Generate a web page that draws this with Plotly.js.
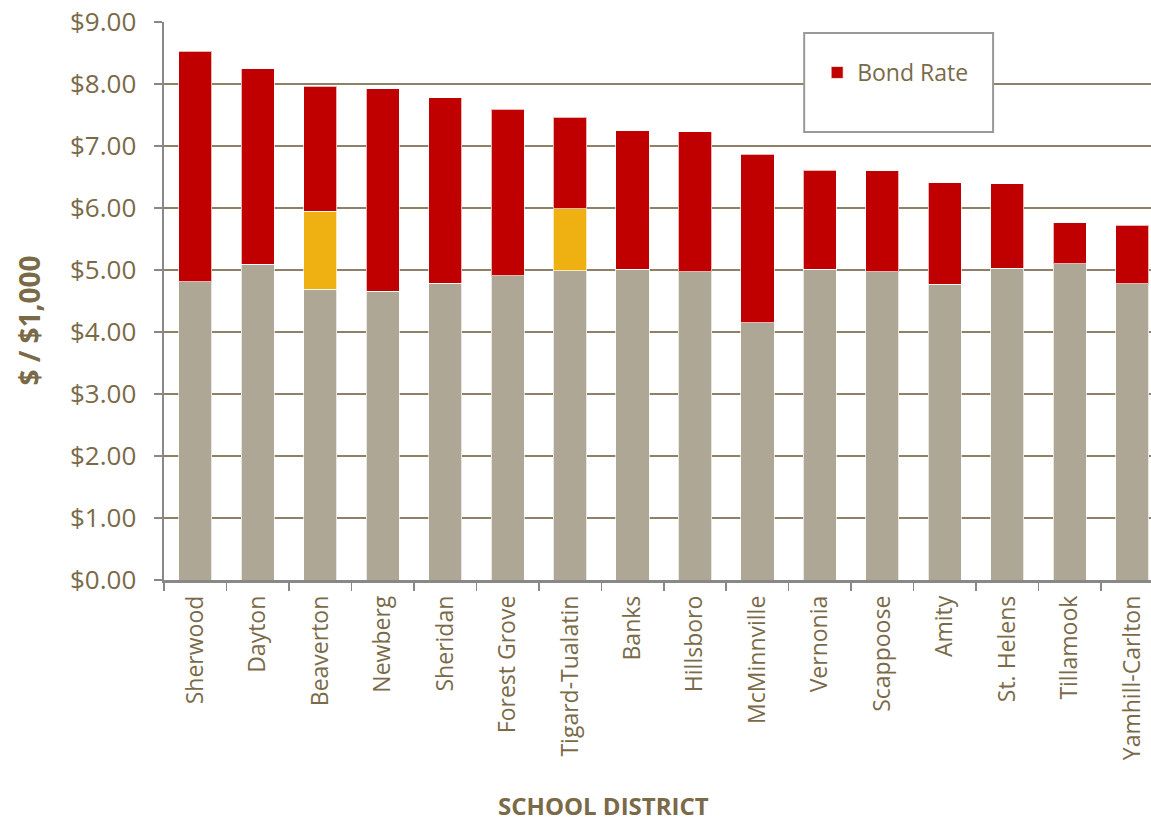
<!DOCTYPE html>
<html>
<head>
<meta charset="utf-8">
<script src="https://cdn.plot.ly/plotly-3.0.1.min.js"></script>
<style>html,body{margin:0;padding:0;background:#fff;}#chart{width:1151px;height:825px;}</style>
</head>
<body>
<div id="chart"></div>
<script>
const districts = ["Sherwood","Dayton","Beaverton","Newberg","Sheridan","Forest Grove","Tigard-Tualatin","Banks","Hillsboro","McMinnville","Vernonia","Scappoose","Amity","St. Helens","Tillamook","Yamhill-Carlton"];
const baseRate = [4.81,5.09,4.69,4.66,4.79,4.91,4.99,5.01,4.97,4.15,5.01,4.97,4.77,5.03,5.10,4.78];
const localOption = [0,0,1.26,0,0,0,1.00,0,0,0,0,0,0,0,0,0];
const totalRate = [8.53,8.25,7.96,7.92,7.78,7.59,7.46,7.25,7.23,6.87,6.61,6.60,6.41,6.39,5.76,5.72];
const bondRate = totalRate.map((t,i)=> +(t - baseRate[i] - localOption[i]).toFixed(2));
const yTicks = [0,1,2,3,4,5,6,7,8,9];

const W=1151,H=825, L=163.5, R=0, T=22, B=245;
const pw = W-L-R, ph = H-T-B;
const px = x => (x-L)/pw;
const py = y => (H-B-y)/ph;

const textColor = "#7a6a48";
const lineStyle = {color:"rgba(255,255,255,0.7)", width:1};

const traces = [
  {type:"bar", x:districts, y:baseRate, name:"Base", marker:{color:"#aea796", line:lineStyle}, showlegend:false, hoverinfo:"x+y"},
  {type:"bar", x:districts, y:localOption, name:"Local Option", marker:{color:"#eeb111", line:lineStyle}, showlegend:false, hoverinfo:"x+y"},
  {type:"bar", x:districts, y:bondRate, name:"Bond Rate", marker:{color:"#c00000", line:lineStyle}, showlegend:true, hoverinfo:"x+y"}
];

const layout = {
  width:W, height:H,
  margin:{l:L, r:R, t:T, b:B, pad:0},
  barmode:"stack",
  bargap:0.47,
  paper_bgcolor:"#fff", plot_bgcolor:"#fff",
  font:{family:"Open Sans, sans-serif", color:textColor},
  xaxis:{
    type:"category",
    range:[-0.5, 15.3],
    tickangle:-90,
    tickfont:{size:23, color:textColor, family:"Open Sans, sans-serif"},
    ticks:"outside", tickson:"boundaries", ticklen:8, tickcolor:"#888888", tickwidth:1.5,
    showline:true, linecolor:"#888888", linewidth:2.5,
    showgrid:false, zeroline:false,
    ticklabelstandoff:4
  },
  yaxis:{
    range:[0,9],
    tickvals:yTicks,
    tickformat:"$.2f",
    tickfont:{size:26, color:textColor, family:"Open Sans, sans-serif"},
    ticks:"outside", ticklen:8, tickcolor:"#888888", tickwidth:1.5,
    showline:true, linecolor:"#888888", linewidth:2.5,
    showgrid:true, gridcolor:"#8e8166", gridwidth:1.8,
    zeroline:false,
    ticklabelstandoff:12
  },
  showlegend:true,
  legend:{
    x:px(817), y:py(51), xanchor:"left", yanchor:"top",
    bgcolor:"rgba(0,0,0,0)", borderwidth:0,
    font:{size:23, color:textColor, family:"Open Sans, sans-serif"},
    itemwidth:30, traceorder:"normal"
  },
  shapes:[
    {type:"rect", xref:"paper", yref:"paper", x0:px(804), x1:px(993), y0:py(33), y1:py(132),
     fillcolor:"#ffffff", line:{color:"#999999", width:2}, layer:"above"}
  ],
  annotations:[
    {text:"SCHOOL DISTRICT", xref:"paper", yref:"paper", x:px(603), y:py(824), xanchor:"center", yanchor:"bottom",
     showarrow:false, font:{size:24, color:textColor, family:"Open Sans, sans-serif", weight:"bold"}},
    {text:"$ / $1,000", xref:"paper", yref:"paper", x:px(28), y:py(321), xanchor:"center", yanchor:"middle",
     textangle:-90, showarrow:false, font:{size:28, color:textColor, family:"Open Sans, sans-serif", weight:"bold"}}
  ]
};

Plotly.newPlot("chart", traces, layout, {displayModeBar:false, staticPlot:true});
</script>
</body>
</html>
